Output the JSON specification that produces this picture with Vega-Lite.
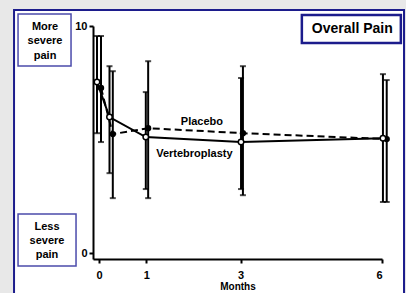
{
  "$schema": "https://vega.github.io/schema/vega-lite/v6.json",
  "autosize": "none",
  "padding": {"left": 93, "top": 26, "right": 24, "bottom": 34},
  "width": 289,
  "height": 233,
  "background": "#e8e8e8",
  "config": {
    "view": {"stroke": null},
    "font": "Liberation Sans"
  },
  "datasets": {
    "one": [{}],
    "pain": [
      {"group": "Vertebroplasty", "month": -0.045, "mean": 7.53, "lo": 5.28, "hi": 9.56},
      {"group": "Vertebroplasty", "month": 0.22, "mean": 5.99, "lo": 3.52, "hi": 8.23},
      {"group": "Vertebroplasty", "month": 0.99, "mean": 5.11, "lo": 2.82, "hi": 7.09},
      {"group": "Vertebroplasty", "month": 3.01, "mean": 4.89, "lo": 2.82, "hi": 7.71},
      {"group": "Vertebroplasty", "month": 6.02, "mean": 5.06, "lo": 2.25, "hi": 7.88},
      {"group": "Placebo", "month": 0.04, "mean": 7.27, "lo": 4.89, "hi": 9.56},
      {"group": "Placebo", "month": 0.29, "mean": 5.24, "lo": 2.42, "hi": 8.01},
      {"group": "Placebo", "month": 1.04, "mean": 5.5, "lo": 2.42, "hi": 8.45},
      {"group": "Placebo", "month": 3.05, "mean": 5.28, "lo": 2.55, "hi": 8.23},
      {"group": "Placebo", "month": 6.1, "mean": 5.02, "lo": 2.25, "hi": 7.62}
    ]
  },
  "layer": [
    {
      "data": {"name": "one"},
      "mark": {"type": "rect", "fill": "white", "stroke": "#1c1c8c", "strokeWidth": 2, "clip": false},
      "encoding": {
        "x": {"datum": -1.805, "type": "quantitative",
          "scale": {"domain": [-0.13, 6], "nice": false, "zero": false},
          "axis": {
            "values": [0, 1, 3, 6], "title": "Months", "grid": false, "zindex": 2,
            "domainColor": "black", "domainWidth": 2, "tickColor": "black", "tickWidth": 2, "tickSize": 4,
            "labelFont": "Liberation Sans", "labelFontWeight": "bold", "labelFontSize": 11, "labelColor": "black", "labelPadding": 6,
            "titleFont": "Liberation Sans", "titleFontWeight": "bold", "titleFontSize": 10, "titleColor": "black", "titlePadding": 1
          }
        },
        "x2": {"datum": 6.467},
        "y": {"datum": 10.705, "type": "quantitative",
          "scale": {"domain": [-0.26, 10], "nice": false, "zero": false},
          "axis": {
            "values": [0, 10], "title": null, "grid": false, "zindex": 2,
            "domainColor": "black", "domainWidth": 2, "tickColor": "black", "tickWidth": 2, "tickSize": 4,
            "labelFont": "Liberation Sans", "labelFontWeight": "bold", "labelFontSize": 11, "labelColor": "black", "labelPadding": 2
          }
        },
        "y2": {"datum": -2.5}
      }
    },
    {
      "data": {"name": "one"},
      "mark": {"type": "rect", "fill": "white", "stroke": "#4b4bab", "strokeWidth": 1.5},
      "encoding": {
        "x": {"datum": -1.72, "type": "quantitative"},
        "x2": {"datum": -0.596},
        "y": {"datum": 10.53, "type": "quantitative"},
        "y2": {"datum": 8.24}
      }
    },
    {
      "data": {"name": "one"},
      "mark": {"type": "rect", "fill": "white", "stroke": "#4b4bab", "strokeWidth": 1.5},
      "encoding": {
        "x": {"datum": -1.72, "type": "quantitative"},
        "x2": {"datum": -0.49},
        "y": {"datum": 1.72, "type": "quantitative"},
        "y2": {"datum": -0.57}
      }
    },
    {
      "data": {"name": "one"},
      "mark": {"type": "rect", "fill": "white", "stroke": "#1c1c8c", "strokeWidth": 2.5},
      "encoding": {
        "x": {"datum": 4.3, "type": "quantitative"},
        "x2": {"datum": 6.4},
        "y": {"datum": 10.48, "type": "quantitative"},
        "y2": {"datum": 9.25}
      }
    },
    {
      "data": {"name": "one"},
      "mark": {"type": "text", "text": ["More", "severe", "pain"], "lineHeight": 14.5, "fontWeight": "bold", "fontSize": 11, "font": "Liberation Sans", "color": "black", "align": "center", "baseline": "middle"},
      "encoding": {
        "x": {"datum": -1.147, "type": "quantitative"},
        "y": {"datum": 9.96, "type": "quantitative"}
      }
    },
    {
      "data": {"name": "one"},
      "mark": {"type": "text", "text": ["Less", "severe", "pain"], "lineHeight": 14, "fontWeight": "bold", "fontSize": 11, "font": "Liberation Sans", "color": "black", "align": "center", "baseline": "middle"},
      "encoding": {
        "x": {"datum": -1.105, "type": "quantitative"},
        "y": {"datum": 1.14, "type": "quantitative"}
      }
    },
    {
      "data": {"name": "one"},
      "mark": {"type": "text", "text": "Overall Pain", "fontWeight": "bold", "fontSize": 14, "font": "Liberation Sans", "color": "black", "align": "center", "baseline": "middle"},
      "encoding": {
        "x": {"datum": 5.37, "type": "quantitative"},
        "y": {"datum": 9.87, "type": "quantitative"}
      }
    },
    {
      "data": {"name": "pain"},
      "mark": {"type": "rule", "color": "black", "strokeWidth": 2},
      "encoding": {
        "x": {"field": "month", "type": "quantitative"},
        "y": {"field": "lo", "type": "quantitative"},
        "y2": {"field": "hi"}
      }
    },
    {
      "data": {"name": "pain"},
      "mark": {"type": "tick", "color": "black", "orient": "horizontal", "size": 6, "thickness": 2},
      "encoding": {
        "x": {"field": "month", "type": "quantitative"},
        "y": {"field": "lo", "type": "quantitative"}
      }
    },
    {
      "data": {"name": "pain"},
      "mark": {"type": "tick", "color": "black", "orient": "horizontal", "size": 6, "thickness": 2},
      "encoding": {
        "x": {"field": "month", "type": "quantitative"},
        "y": {"field": "hi", "type": "quantitative"}
      }
    },
    {
      "data": {"name": "pain"},
      "transform": [{"filter": "datum.group === 'Placebo'"}],
      "mark": {"type": "line", "color": "black", "strokeWidth": 2, "strokeDash": [7, 4]},
      "encoding": {
        "x": {"field": "month", "type": "quantitative"},
        "y": {"field": "mean", "type": "quantitative"}
      }
    },
    {
      "data": {"name": "pain"},
      "transform": [{"filter": "datum.group === 'Vertebroplasty'"}],
      "mark": {"type": "line", "color": "black", "strokeWidth": 2},
      "encoding": {
        "x": {"field": "month", "type": "quantitative"},
        "y": {"field": "mean", "type": "quantitative"}
      }
    },
    {
      "data": {"name": "pain"},
      "transform": [{"filter": "datum.group === 'Placebo'"}],
      "mark": {"type": "point", "shape": "circle", "filled": true, "color": "black", "size": 40, "opacity": 1},
      "encoding": {
        "x": {"field": "month", "type": "quantitative"},
        "y": {"field": "mean", "type": "quantitative"}
      }
    },
    {
      "data": {"name": "pain"},
      "transform": [{"filter": "datum.group === 'Vertebroplasty'"}],
      "mark": {"type": "point", "shape": "circle", "filled": true, "fill": "white", "stroke": "black", "strokeWidth": 1.5, "size": 30, "opacity": 1},
      "encoding": {
        "x": {"field": "month", "type": "quantitative"},
        "y": {"field": "mean", "type": "quantitative"}
      }
    },
    {
      "data": {"name": "one"},
      "mark": {"type": "text", "text": "Placebo", "fontWeight": "bold", "fontSize": 11, "font": "Liberation Sans", "color": "black", "align": "center", "baseline": "middle"},
      "encoding": {
        "x": {"datum": 2.18, "type": "quantitative"},
        "y": {"datum": 5.77, "type": "quantitative"}
      }
    },
    {
      "data": {"name": "one"},
      "mark": {"type": "text", "text": "Vertebroplasty", "fontWeight": "bold", "fontSize": 11, "font": "Liberation Sans", "color": "black", "align": "center", "baseline": "middle"},
      "encoding": {
        "x": {"datum": 2.02, "type": "quantitative"},
        "y": {"datum": 4.36, "type": "quantitative"}
      }
    }
  ]
}
